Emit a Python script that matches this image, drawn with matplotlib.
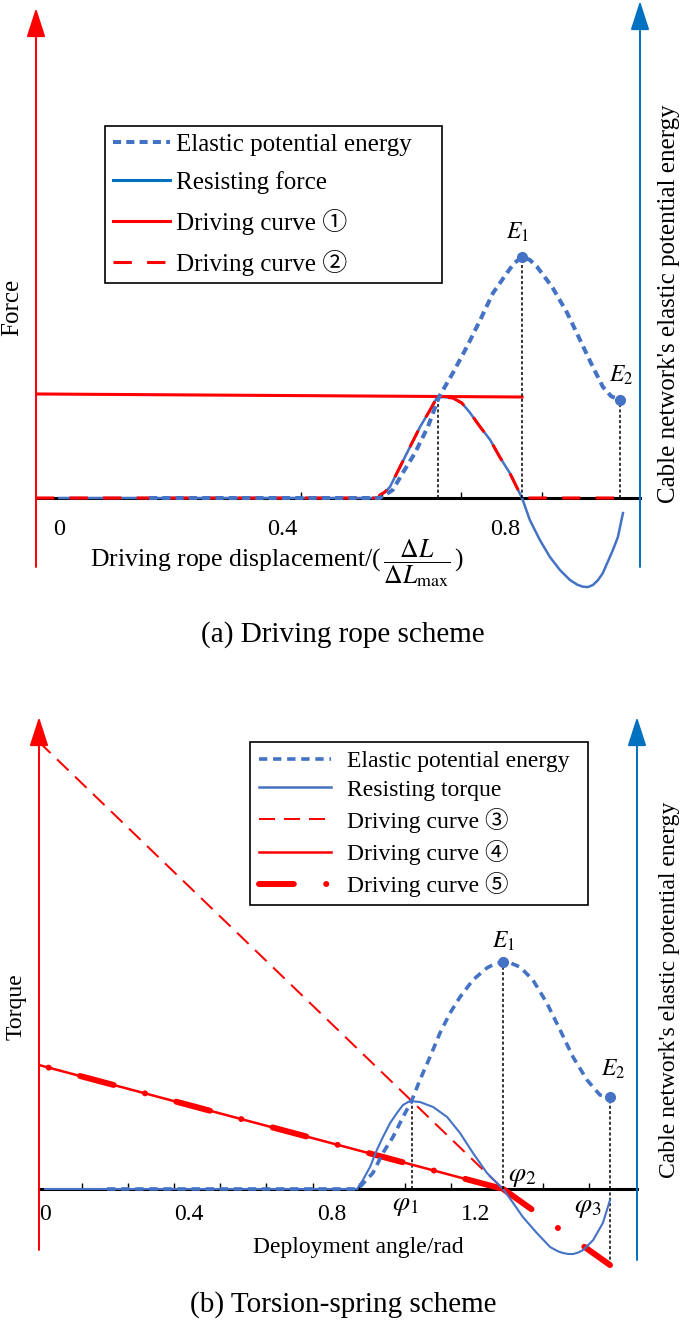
import matplotlib
matplotlib.use('Agg')
import matplotlib.pyplot as plt
from matplotlib.lines import Line2D
import numpy as np

plt.rcParams['font.family'] = ['Liberation Serif', 'Noto Sans CJK JP', 'DejaVu Sans']
plt.rcParams['mathtext.fontset'] = 'stix'

W, H = 685, 1321
RED = '#FF0000'
BLUE = '#4472C4'
BLUE_AX = '#0070C0'

# ------------------------- data: (a) driving rope scheme -------------------------
a_res_x = [0.0, 0.5717, 0.5753, 0.584, 0.593, 0.611, 0.629, 0.647, 0.665, 0.677, 0.688,
           0.706, 0.722, 0.737, 0.755, 0.773, 0.790, 0.808, 0.830, 0.844, 0.862, 0.880,
           0.898, 0.916, 0.929, 0.939, 0.948, 0.957, 0.966, 0.975, 0.993, 1.002, 1.011]
a_res_y = [0.0, 0.0, 0.030, 0.059, 0.109, 0.307, 0.505, 0.703, 0.871, 0.990, 1.0,
           0.990, 0.941, 0.842, 0.703, 0.574, 0.406, 0.248, 0.0, -0.218, -0.416, -0.584,
           -0.713, -0.812, -0.858, -0.878, -0.882, -0.862, -0.815, -0.743, -0.515, -0.386, -0.149]
a_en_x = [0.161, 0.575, 0.598, 0.616, 0.638, 0.661, 0.681, 0.706, 0.731, 0.755, 0.778,
          0.803, 0.816, 0.830, 0.844, 0.857, 0.884, 0.911, 0.934, 0.957, 0.975, 0.990, 1.006]
a_en_y = [0.0, 0.0, 0.033, 0.104, 0.187, 0.295, 0.419, 0.519, 0.627, 0.739, 0.851,
          0.934, 0.975, 1.0, 0.988, 0.959, 0.876, 0.768, 0.656, 0.544, 0.461, 0.422, 0.407]
a_drive1_x = [-0.042, 0.830]
a_drive1_y = [1.03, 1.0]
a_drive2_start, a_drive2_end = -0.042, 1.011
a_peak_x, a_peak_f = 0.680, 1.0
a_E_x = [0.830, 1.006]
a_E_y = [1.0, 0.407]
a_E_labels = ['$E_1$', '$E_2$']
a_ticks = [0.0, 0.4, 0.8]
a_ticklabels = ['0', '0.4', '0.8']
a_minor = [0.433, 0.579, 0.720, 0.866]

# ------------------------- data: (b) torsion-spring scheme -------------------------
b_res_x = [0.0, 0.870, 0.886, 0.906, 0.925, 0.942, 0.962, 0.981, 0.998, 1.017, 1.045,
           1.082, 1.121, 1.157, 1.193, 1.232, 1.260, 1.277, 1.305, 1.332, 1.371, 1.408,
           1.430, 1.444, 1.458, 1.472, 1.486, 1.500, 1.528, 1.555, 1.569, 1.575]
b_res_y = [0.0, 0.0, 0.102, 0.250, 0.443, 0.591, 0.750, 0.864, 0.955, 1.0, 0.989,
           0.932, 0.818, 0.636, 0.409, 0.182, 0.068, 0.0, -0.159, -0.318, -0.500, -0.659,
           -0.708, -0.727, -0.738, -0.739, -0.722, -0.693, -0.580, -0.386, -0.205, -0.125]
b_en_x = [0.173, 0.8725, 0.914, 0.942, 0.970, 0.998, 1.023, 1.045, 1.073, 1.101, 1.129,
          1.157, 1.193, 1.232, 1.255, 1.277, 1.300, 1.324, 1.360, 1.399, 1.436, 1.472,
          1.511, 1.547, 1.575]
b_en_y = [0.0, 0.0, 0.0705, 0.159, 0.229, 0.317, 0.392, 0.480, 0.581, 0.687, 0.775,
          0.846, 0.921, 0.974, 0.993, 1.0, 0.994, 0.978, 0.921, 0.819, 0.700, 0.581,
          0.480, 0.414, 0.405]
b_drive3_x = [-0.0167, 1.277]
b_drive3_y = [5.08, 0.0]
b_drive4_x = [-0.0167, 1.277]
b_drive4_y = [1.409, 0.0]
b_drive5_x = [-0.0167, 1.277, 1.575]
b_drive5_y = [1.409, 0.0, -0.864]
b_phi_x = [1.023, 1.277, 1.575]
b_phi_labels = [r'$\varphi_1$', r'$\varphi_2$', r'$\varphi_3$']
b_E_x = [1.277, 1.575]
b_E_y = [1.0, 0.405]
b_E_labels = ['$E_1$', '$E_2$']
b_ticks = [0.0, 0.4, 0.8, 1.2]
b_ticklabels = ['0', '0.4', '0.8', '1.2']
b_minor = [0.103, 0.231, 0.360, 0.488, 0.616, 0.747, 0.875, 1.004, 1.132, 1.260, 1.388, 1.516]

fig = plt.figure(figsize=(W / 100, H / 100), dpi=100)


def axes_px(l, t, r, b):
    return fig.add_axes([l / W, 1 - b / H, (r - l) / W, (b - t) / H])


def fpx(x, y):
    return (x / W, 1 - y / H)


def arrow(ax, x, y0, y1, color, hl=1.8, hw=0.58):
    ax.annotate('', xy=fpx(x, y1), xytext=fpx(x, y0), xycoords='figure fraction',
                textcoords='figure fraction', annotation_clip=False,
                arrowprops=dict(arrowstyle='-|>,head_length=%g,head_width=%g' % (hl, hw),
                                color=color, lw=1.4, shrinkA=0, shrinkB=0, mutation_scale=10))


def setup(ax, xlim, ylim, ticks, labels, minor, fs, pad):
    ax.set_xlim(*xlim)
    ax.set_ylim(*ylim)
    for s in ['left', 'right', 'top']:
        ax.spines[s].set_visible(False)
    ax.spines['bottom'].set_position(('data', 0))
    ax.spines['bottom'].set_linewidth(2.2)
    ax.spines['bottom'].set_zorder(1)
    ax.set_yticks([])
    ax.set_xticks(ticks, labels)
    ax.set_xticks(minor, minor=True)
    ax.tick_params(axis='x', which='major', length=0, pad=pad, labelsize=fs)
    ax.tick_params(axis='x', which='minor', direction='in', length=4, width=1.0)
    ax.patch.set_visible(False)


DOT_BLACK = (0, (2, 1.5))
D5 = (5.83, 5.42, 0.02, 5.42)

# =============================== panel (a) ===============================
axa = axes_px(36, 0, 640, 600)
setup(axa, (-0.0418, 1.0416), (-1.0099, 4.9307), a_ticks, a_ticklabels, a_minor, 17.5, 15)
axa2 = axa.twinx()
axa2.set_ylim(-0.4232, 2.0664)
axa2.set_yticks([])
for s in axa2.spines.values():
    s.set_visible(False)

rx = np.array(a_res_x)
ry = np.array(a_res_y)
hump = (rx >= 0.5717) & (rx <= 0.830)
d2x = np.concatenate([[a_drive2_start], rx[hump], [a_drive2_end]])
d2y = np.concatenate([[0.0], ry[hump], [0.0]])

axa.plot(a_res_x, a_res_y, color=BLUE, lw=1.8, zorder=3)
axa.plot(a_drive1_x, a_drive1_y, color=RED, lw=2.2, zorder=4)
axa.plot(d2x, d2y, color=RED, lw=2.2, linestyle=(0, (6, 5)), zorder=4)
axa.plot([a_peak_x, a_peak_x], [0, a_peak_f], color='black', lw=1.1,
         linestyle=DOT_BLACK, zorder=2)
axa2.plot(a_en_x, a_en_y, color=BLUE, lw=2.9, linestyle=(0, (2.0, 1.3)), zorder=3)
for x, y in zip(a_E_x, a_E_y):
    axa2.plot([x, x], [0, y], color='black', lw=1.1, linestyle=DOT_BLACK, zorder=2)
    axa2.plot([x], [y], 'o', color=BLUE, ms=7, zorder=5)
axa2.annotate(a_E_labels[0], (a_E_x[0], a_E_y[0]), xytext=(-3, 18), textcoords='offset points',
              ha='center', va='center', fontsize=17)
axa2.annotate(a_E_labels[1], (a_E_x[1], a_E_y[1]), xytext=(1, 18), textcoords='offset points',
              ha='center', va='center', fontsize=17)

arrow(axa, 36, 567, 8, RED)
arrow(axa, 640, 567, 1, BLUE_AX)

fig.text(*fpx(12, 307), 'Force', rotation=90, ha='center', va='center', fontsize=18)
fig.text(*fpx(669, 304), "Cable network's elastic potential energy", rotation=90,
         ha='center', va='center', fontsize=18)
fig.text(*fpx(277, 563), r'Driving rope displacement/($\,\dfrac{\Delta L}{\Delta L_{\rm max}}\,$)',
         ha='center', va='center', fontsize=18.5)
fig.text(*fpx(343, 635), '(a) Driving rope scheme', ha='center', va='center', fontsize=21)

hand_a = [Line2D([], [], color=BLUE, lw=2.9, linestyle=(0, (2.0, 1.3))),
          Line2D([], [], color=BLUE_AX, lw=2.2),
          Line2D([], [], color=RED, lw=2.2),
          Line2D([], [], color=RED, lw=2.2, linestyle=(0, (6, 5)))]
lab_a = ['Elastic potential energy', 'Resisting force', 'Driving curve ①', 'Driving curve ②']
l0, t0, r0, b0 = 105, 126, 442, 279
lega = fig.legend(hand_a, lab_a, loc='upper left', mode='expand',
                  bbox_to_anchor=(l0 / W, 1 - b0 / H, (r0 - l0) / W, (b0 - t0) / H),
                  bbox_transform=fig.transFigure, borderaxespad=0, fontsize=18,
                  fancybox=False, edgecolor='black', framealpha=1, borderpad=0.3,
                  labelspacing=0.6, handlelength=2.3, handletextpad=0.25)
lega.get_frame().set_linewidth(1.2)

# =============================== panel (b) ===============================
axb = axes_px(39, 700, 637, 1275)
setup(axb, (-0.0167, 1.6502), (-0.977, 5.557), b_ticks, b_ticklabels, b_minor, 17, 11)
axb2 = axb.twinx()
axb2.set_ylim(-0.3789, 2.1542)
axb2.set_yticks([])
for s in axb2.spines.values():
    s.set_visible(False)

axb.plot(b_drive3_x, b_drive3_y, color=RED, lw=1.44, linestyle=(0, (8, 4.5)), zorder=3)
axb.plot(b_drive4_x, b_drive4_y, color=RED, lw=1.8, zorder=3)
axb.plot(b_drive5_x[:2], b_drive5_y[:2], color=RED, lw=4.3,
         linestyle=(9.58, D5), dash_capstyle='round', zorder=4)
axb.plot(b_drive5_x[1:], b_drive5_y[1:], color=RED, lw=4.3,
         linestyle=(0, D5), dash_capstyle='round', zorder=4)
axb.plot(b_res_x, b_res_y, color=BLUE, lw=1.5, zorder=5)
axb.plot([b_phi_x[0], b_phi_x[0]], [0, max(b_res_y)], color='black', lw=1.1,
         linestyle=DOT_BLACK, zorder=2)
axb.plot([b_phi_x[2], b_phi_x[2]], [b_drive5_y[-1], 0], color='black', lw=1.1,
         linestyle=DOT_BLACK, zorder=2)
axb2.plot(b_en_x, b_en_y, color=BLUE, lw=2.6, linestyle=(0, (2.3, 1.6)), zorder=3)
for x, y in zip(b_E_x, b_E_y):
    axb2.plot([x, x], [0, y], color='black', lw=1.1, linestyle=DOT_BLACK, zorder=2)
    axb2.plot([x], [y], 'o', color=BLUE, ms=7, zorder=5)
axb2.annotate(b_E_labels[0], (b_E_x[0], b_E_y[0]), xytext=(0, 15), textcoords='offset points',
              ha='center', va='center', fontsize=17)
axb2.annotate(b_E_labels[1], (b_E_x[1], b_E_y[1]), xytext=(2, 20), textcoords='offset points',
              ha='center', va='center', fontsize=17)
axb.annotate(b_phi_labels[0], (b_phi_x[0], 0), xytext=(-5, -12), textcoords='offset points',
             ha='center', va='center', fontsize=20)
axb.annotate(b_phi_labels[1], (b_phi_x[1], 0), xytext=(14, 9), textcoords='offset points',
             ha='center', va='center', fontsize=20)
axb.annotate(b_phi_labels[2], (b_phi_x[2], 0), xytext=(-16, -13), textcoords='offset points',
             ha='center', va='center', fontsize=20)

arrow(axb, 39, 1250, 717, RED)
arrow(axb, 637, 1260, 717, BLUE_AX)

fig.text(*fpx(16, 1007), 'Torque', rotation=90, ha='center', va='center', fontsize=17)
fig.text(*fpx(670, 990), "Cable network's elastic potential energy", rotation=90,
         ha='center', va='center', fontsize=17)
fig.text(*fpx(358, 1248), 'Deployment angle/rad', ha='center', va='center', fontsize=17)
fig.text(*fpx(343, 1305), '(b) Torsion-spring scheme', ha='center', va='center', fontsize=21)

hand_b = [Line2D([], [], color=BLUE, lw=2.6, linestyle=(0, (2.3, 1.6))),
          Line2D([], [], color=BLUE, lw=1.8),
          Line2D([], [], color=RED, lw=1.44, linestyle=(0, (8, 4.5))),
          Line2D([], [], color=RED, lw=1.8),
          Line2D([], [], color=RED, lw=4.3, linestyle=(0, D5), dash_capstyle='round')]
lab_b = ['Elastic potential energy', 'Resisting torque', 'Driving curve ③',
         'Driving curve ④', 'Driving curve ⑤']
l1, t1, r1, b1 = 250, 742, 588, 902
legb = fig.legend(hand_b, lab_b, loc='upper left', mode='expand',
                  bbox_to_anchor=(l1 / W, 1 - b1 / H, (r1 - l1) / W, (b1 - t1) / H),
                  bbox_transform=fig.transFigure, borderaxespad=0, fontsize=17,
                  fancybox=False, edgecolor='black', framealpha=1, borderpad=0.36,
                  labelspacing=0.30, handlelength=3.05, handletextpad=0.7)
legb.get_frame().set_linewidth(1.2)

fig.savefig('out.png', dpi=100)
